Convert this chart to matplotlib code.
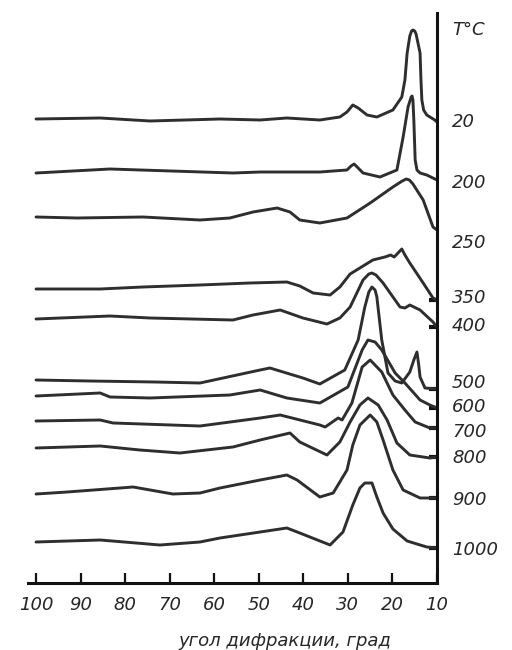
import matplotlib
matplotlib.use('Agg')
import matplotlib.pyplot as plt

# ---------------- data ----------------
temps = ['20', '200', '250', '350', '400', '500', '600', '700', '800', '900', '1000']

ang_20 = [100, 85.6, 74.4, 58.7, 49.7, 43.7, 36.3, 31.8, 30.2, 28.9, 27.7, 25.7, 23.5, 19.9,
          17.9, 17.2, 16.7, 16.1, 15.7, 15.4, 15.0, 14.7, 13.8, 13.6, 13.4, 13.0, 12.3, 10.5, 10]
int_20 = [3, 4, 1, 3, 2, 4, 2, 5, 10, 17, 14, 7, 5, 12,
          25, 42, 69, 86, 91, 92, 91, 88, 69, 42, 22, 12, 7, 2, 0]

ang_200 = [100, 83.4, 55.8, 49.7, 36.3, 30.2, 29.3, 28.6, 27.7, 26.6, 22.8, 19.0, 17.6, 16.5,
           15.8, 15.6, 15.4, 15.2, 14.9, 14.5, 13.8, 12.3, 10]
int_200 = [7, 11, 7, 8, 8, 10, 14, 16, 12, 7, 3, 10, 43, 73,
           83, 84, 80, 60, 20, 10, 7, 5, 0]

ang_250 = [100, 90.8, 76, 63.2, 56.5, 51.3, 45.9, 43, 40.8, 36.3, 30.2, 25, 19.9, 17.8, 16.9,
           16.2, 15.4, 13.1, 10.9, 10]
int_250 = [13, 12, 13, 10, 12, 18, 22, 18, 10, 7, 12, 27, 43, 49, 51,
           50, 46, 30, 3, 0]

ang_350 = [100, 85.6, 76, 63.2, 52, 43.7, 40.8, 37.8, 34, 31.8, 29.5, 24.4, 21.7, 20.4,
           19.6, 17.9, 17.2, 16.1, 13.1, 10.9, 10]
int_350 = [11, 11, 13, 15, 17, 18, 14, 7, 5, 13, 26, 40, 43, 45,
           43, 51, 45, 37, 17, 2, 0]

ang_400 = [100, 83.4, 74.4, 55.8, 51.3, 45.2, 40.1, 34.7, 31.8, 29.5, 26.6, 25.3, 24.6, 23.7,
           22.1, 18.3, 17.2, 16.1, 13.8, 10.9, 10]
int_400 = [8, 11, 9, 7, 12, 17, 9, 3, 9, 20, 47, 53, 54, 52,
           44, 20, 19, 22, 17, 5, 0]

ang_500 = [100, 87.9, 73.3, 63.2, 49.7, 47.5, 40.1, 36.3, 30.7, 27.7, 26.2, 25.3, 24.6, 23.9,
           23.5, 22.4, 21.0, 19.4, 17.9, 16.1, 15.2, 14.5, 14.1, 13.8, 12.7, 10]
int_500 = [9, 8, 7, 6, 19, 21, 11, 5, 19, 49, 82, 97, 102, 99,
           92, 49, 16, 8, 6, 17, 29, 37, 24, 12, 1, 0]

ang_600 = [100, 85.6, 83.4, 74.4, 56.5, 49.7, 43.7, 36.3, 35.1, 30.0, 26.8, 25.5, 23.9, 22.4,
           19.4, 17.2, 13.8, 11.6, 10]
int_600 = [12, 15, 11, 10, 13, 18, 10, 5, 8, 21, 58, 68, 66, 58,
           35, 25, 8, 3, 0]

ang_700 = [100, 85.6, 82.7, 63.2, 49.7, 45.2, 36.3, 35.1, 32.2, 31.3, 29.1, 26.8, 25.0, 22.4,
           19.9, 17.2, 14.9, 11.6, 10]
int_700 = [7, 8, 5, 2, 10, 13, 3, 1, 10, 8, 25, 61, 68, 56,
           33, 18, 6, 0, 0]

ang_800 = [100, 85.6, 76.7, 67.7, 55.8, 49.7, 43.0, 40.8, 34.7, 31.8, 29.5, 27.3, 25.5, 23.2,
           21.2, 19.0, 16.1, 11.6, 10]
int_800 = [9, 11, 7, 4, 10, 17, 24, 15, 2, 15, 35, 52, 59, 52,
           37, 14, 2, -1, 0]

ang_900 = [100, 93.0, 78.2, 69.3, 63.2, 58.7, 49.7, 43.7, 41.4, 36.3, 33.3, 30.2, 28.9, 27.3,
           25.0, 23.5, 22.1, 19.9, 17.6, 13.8, 10]
int_900 = [4, 6, 11, 4, 5, 10, 18, 23, 18, 1, 5, 28, 53, 73,
           83, 76, 58, 28, 8, 0, 0]

ang_1000 = [100, 85.6, 72.2, 63.2, 58.7, 49.7, 43.7, 40.8, 34.0, 31.1, 28.9, 27.3, 26.2, 24.6,
            23.5, 22.1, 19.9, 16.7, 12.3, 10]
int_1000 = [6, 8, 3, 6, 10, 16, 20, 15, 3, 16, 43, 60, 65, 65,
            51, 35, 19, 7, 1, 0]

angles = [ang_20, ang_200, ang_250, ang_350, ang_400, ang_500,
          ang_600, ang_700, ang_800, ang_900, ang_1000]
intens = [int_20, int_200, int_250, int_350, int_400, int_500,
          int_600, int_700, int_800, int_900, int_1000]

x_ticks = [100, 90, 80, 70, 60, 50, 40, 30, 20, 10]
x_label = 'угол дифракции, град'
unit_label = 'T°C'

# ---------------- layout ----------------
offsets = [461, 403, 353, 283, 256, 194, 175, 155, 126, 85, 35]   # stacking offsets
label_y = [461, 400, 340, 285, 257, 200, 176, 151, 125, 83, 33]    # right labels

line_color = '#2e2e2e'
text_color = '#262626'

fig = plt.figure(figsize=(5.12, 6.5), dpi=100)
ax = fig.add_axes([28 / 512, 67 / 650, 409 / 512, 570 / 650])
ax.set_xlim(101.8, 10)
ax.set_ylim(0, 570)

for a, v, off in zip(angles, intens, offsets):
    ax.plot(a, [off + y for y in v], color=line_color, lw=2.1,
            solid_joinstyle='round', solid_capstyle='round')

for s in ['top', 'left']:
    ax.spines[s].set_visible(False)
for s in ['bottom', 'right']:
    ax.spines[s].set_linewidth(2.2)
    ax.spines[s].set_color('#111111')

ax.set_xticks(x_ticks)
ax.set_xticklabels([str(t) for t in x_ticks])
ax.tick_params(axis='x', direction='in', length=7, width=1.6, color='#111111',
               pad=9, labelsize=13, labelcolor=text_color)
for lab in ax.get_xticklabels():
    lab.set_fontstyle('italic')

ax.yaxis.tick_right()
ax.set_yticks(offsets[3:])
ax.tick_params(axis='y', direction='in', length=6, width=3, color='#111111',
               labelright=False, labelleft=False)

for t, y in zip(temps, label_y):
    ax.text(1.037, y, t, transform=ax.get_yaxis_transform(), ha='left', va='center',
            fontsize=13, style='italic', color=text_color, clip_on=False)
ax.text(1.037, 553, unit_label, transform=ax.get_yaxis_transform(), ha='left', va='center',
        fontsize=13, style='italic', color=text_color, clip_on=False)

fig.text(285 / 512, 1 - 641 / 650, x_label, ha='center', va='center',
         fontsize=13, style='italic', color=text_color)

fig.savefig('out.png', dpi=100, facecolor='white')
